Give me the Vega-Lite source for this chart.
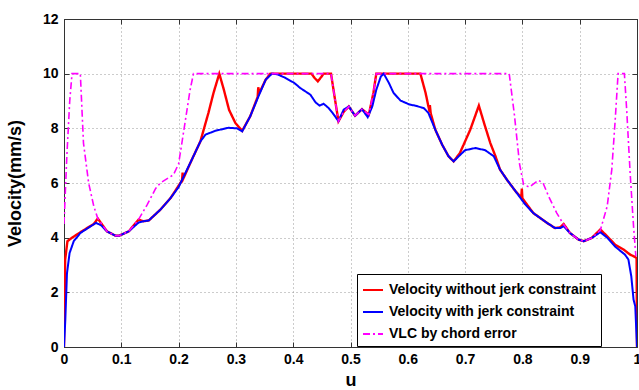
{
  "$schema": "https://vega.github.io/schema/vega-lite/v6.json",
  "width": 573,
  "height": 328,
  "autosize": "none",
  "padding": {"left": 64, "top": 19, "right": 2, "bottom": 43},
  "background": "white",
  "datasets": {
    "red": [
      {"u":0,"v":0},{"u":0.002,"v":3.2},{"u":0.006,"v":3.87},{"u":0.014,"v":4.0},{"u":0.034,"v":4.27},{"u":0.052,"v":4.5},{"u":0.059,"v":4.7},{"u":0.075,"v":4.23},{"u":0.09,"v":4.07},{"u":0.096,"v":4.07},{"u":0.113,"v":4.23},{"u":0.13,"v":4.66},{"u":0.139,"v":4.6},{"u":0.148,"v":4.63},{"u":0.168,"v":5.02},{"u":0.186,"v":5.45},{"u":0.2,"v":5.9},{"u":0.206,"v":6.1},{"u":0.207,"v":6.38},{"u":0.208,"v":6.15},{"u":0.223,"v":6.85},{"u":0.238,"v":7.52},{"u":0.252,"v":8.56},{"u":0.261,"v":9.3},{"u":0.271,"v":10.0},{"u":0.279,"v":9.41},{"u":0.288,"v":8.68},{"u":0.299,"v":8.2},{"u":0.311,"v":7.91},{"u":0.325,"v":8.44},{"u":0.338,"v":9.15},{"u":0.339,"v":9.5},{"u":0.341,"v":9.3},{"u":0.352,"v":9.78},{"u":0.36,"v":10.0},{"u":0.432,"v":10.0},{"u":0.437,"v":9.85},{"u":0.443,"v":9.72},{"u":0.449,"v":9.88},{"u":0.453,"v":10.0},{"u":0.466,"v":10.0},{"u":0.473,"v":9.05},{"u":0.479,"v":8.26},{"u":0.488,"v":8.6},{"u":0.497,"v":8.8},{"u":0.508,"v":8.46},{"u":0.52,"v":8.7},{"u":0.532,"v":8.5},{"u":0.54,"v":9.3},{"u":0.545,"v":10.0},{"u":0.622,"v":10.0},{"u":0.631,"v":9.3},{"u":0.636,"v":8.8},{"u":0.638,"v":8.6},{"u":0.6385,"v":8.85},{"u":0.64,"v":8.55},{"u":0.648,"v":7.95},{"u":0.66,"v":7.4},{"u":0.671,"v":6.98},{"u":0.68,"v":6.79},{"u":0.691,"v":7.1},{"u":0.709,"v":7.95},{"u":0.724,"v":8.83},{"u":0.733,"v":8.2},{"u":0.744,"v":7.46},{"u":0.753,"v":6.98},{"u":0.761,"v":6.49},{"u":0.773,"v":6.12},{"u":0.788,"v":5.7},{"u":0.798,"v":5.47},{"u":0.799,"v":5.8},{"u":0.8,"v":5.44},{"u":0.819,"v":4.9},{"u":0.843,"v":4.54},{"u":0.857,"v":4.35},{"u":0.866,"v":4.38},{"u":0.872,"v":4.5},{"u":0.883,"v":4.17},{"u":0.898,"v":3.93},{"u":0.907,"v":3.87},{"u":0.921,"v":3.99},{"u":0.936,"v":4.3},{"u":0.948,"v":4.05},{"u":0.962,"v":3.74},{"u":0.977,"v":3.56},{"u":0.988,"v":3.38},{"u":0.997,"v":3.29},{"u":0.9993,"v":3.25},{"u":1.0,"v":0}
    ],
    "blue": [
      {"u":0,"v":0},{"u":0.0023,"v":1.0},{"u":0.0052,"v":2.7},{"u":0.0098,"v":3.44},{"u":0.017,"v":3.87},{"u":0.0285,"v":4.17},{"u":0.046,"v":4.41},{"u":0.056,"v":4.54},{"u":0.065,"v":4.45},{"u":0.075,"v":4.23},{"u":0.09,"v":4.07},{"u":0.096,"v":4.07},{"u":0.113,"v":4.23},{"u":0.13,"v":4.55},{"u":0.139,"v":4.6},{"u":0.148,"v":4.63},{"u":0.168,"v":5.02},{"u":0.186,"v":5.45},{"u":0.2,"v":5.85},{"u":0.223,"v":6.85},{"u":0.238,"v":7.52},{"u":0.247,"v":7.77},{"u":0.264,"v":7.91},{"u":0.287,"v":8.02},{"u":0.302,"v":8.0},{"u":0.311,"v":7.89},{"u":0.325,"v":8.44},{"u":0.34,"v":9.2},{"u":0.352,"v":9.78},{"u":0.363,"v":10.0},{"u":0.372,"v":9.98},{"u":0.386,"v":9.85},{"u":0.402,"v":9.66},{"u":0.412,"v":9.48},{"u":0.43,"v":9.23},{"u":0.439,"v":8.95},{"u":0.446,"v":8.83},{"u":0.453,"v":8.9},{"u":0.462,"v":8.74},{"u":0.471,"v":8.5},{"u":0.479,"v":8.26},{"u":0.488,"v":8.68},{"u":0.497,"v":8.8},{"u":0.508,"v":8.46},{"u":0.52,"v":8.7},{"u":0.53,"v":8.41},{"u":0.538,"v":8.8},{"u":0.545,"v":9.41},{"u":0.553,"v":9.9},{"u":0.558,"v":10.0},{"u":0.567,"v":9.66},{"u":0.575,"v":9.3},{"u":0.587,"v":9.02},{"u":0.603,"v":8.87},{"u":0.613,"v":8.83},{"u":0.628,"v":8.74},{"u":0.636,"v":8.56},{"u":0.648,"v":7.95},{"u":0.66,"v":7.4},{"u":0.671,"v":6.98},{"u":0.68,"v":6.79},{"u":0.689,"v":6.98},{"u":0.7,"v":7.2},{"u":0.718,"v":7.28},{"u":0.735,"v":7.2},{"u":0.75,"v":6.98},{"u":0.761,"v":6.49},{"u":0.773,"v":6.12},{"u":0.788,"v":5.7},{"u":0.804,"v":5.24},{"u":0.819,"v":4.9},{"u":0.843,"v":4.54},{"u":0.857,"v":4.35},{"u":0.866,"v":4.35},{"u":0.872,"v":4.42},{"u":0.883,"v":4.17},{"u":0.898,"v":3.93},{"u":0.907,"v":3.87},{"u":0.921,"v":3.99},{"u":0.936,"v":4.2},{"u":0.948,"v":4.0},{"u":0.962,"v":3.67},{"u":0.979,"v":3.38},{"u":0.985,"v":3.2},{"u":0.99,"v":2.59},{"u":0.994,"v":1.73},{"u":0.997,"v":1.49},{"u":1.0,"v":0}
    ],
    "vlc": [
      {"u":0,"v":4.5},{"u":0.005,"v":7.0},{"u":0.01,"v":9.0},{"u":0.014,"v":10},{"u":0.0285,"v":10},{"u":0.034,"v":7.46},{"u":0.043,"v":6.0},{"u":0.052,"v":5.15},{"u":0.059,"v":4.7},{"u":0.075,"v":4.23},{"u":0.09,"v":4.07},{"u":0.096,"v":4.07},{"u":0.113,"v":4.23},{"u":0.13,"v":4.66},{"u":0.145,"v":5.2},{"u":0.16,"v":5.8},{"u":0.168,"v":6.0},{"u":0.191,"v":6.3},{"u":0.2,"v":6.7},{"u":0.206,"v":7.5},{"u":0.22,"v":9.4},{"u":0.226,"v":10},{"u":0.466,"v":10},{"u":0.473,"v":9.05},{"u":0.479,"v":8.26},{"u":0.488,"v":8.6},{"u":0.497,"v":8.8},{"u":0.508,"v":8.46},{"u":0.52,"v":8.7},{"u":0.532,"v":8.5},{"u":0.54,"v":9.3},{"u":0.545,"v":10},{"u":0.777,"v":10},{"u":0.786,"v":8.5},{"u":0.795,"v":6.7},{"u":0.802,"v":5.95},{"u":0.812,"v":5.85},{"u":0.828,"v":6.1},{"u":0.836,"v":6.0},{"u":0.846,"v":5.5},{"u":0.86,"v":4.9},{"u":0.872,"v":4.48},{"u":0.883,"v":4.17},{"u":0.898,"v":3.93},{"u":0.907,"v":3.87},{"u":0.921,"v":3.99},{"u":0.936,"v":4.27},{"u":0.948,"v":5.15},{"u":0.956,"v":6.49},{"u":0.962,"v":8.32},{"u":0.967,"v":10},{"u":0.978,"v":10},{"u":0.982,"v":8.68},{"u":0.988,"v":6.37},{"u":0.994,"v":4.41},{"u":0.998,"v":3.32}
    ]
  },
  "layer": [
    {
      "layer": [
        {
          "data": {"name": "red"},
          "mark": {"type": "line", "strokeWidth": 2.4, "clip": true},
          "encoding": {
            "x": {"field": "u", "type": "quantitative", "scale": {"domain": [0, 1], "nice": false},
                  "axis": {"values": [0,0.1,0.2,0.3,0.4,0.5,0.6,0.7,0.8,0.9,1], "format": "~g", "title": "u", "grid": true, "labelPadding": 10, "titlePadding": 5}},
            "y": {"field": "v", "type": "quantitative", "scale": {"domain": [0, 12], "nice": false},
                  "axis": {"values": [0,2,4,6,8,10,12], "title": "Velocity(mm/s)", "grid": true, "labelPadding": 11, "titlePadding": 18}},
            "color": {"datum": "Velocity without jerk constraint", "type": "nominal",
                      "scale": {"domain": ["Velocity without jerk constraint", "Velocity with jerk constraint", "VLC by chord error"], "range": ["#ff0000", "#0000ff", "#ff00ff"]},
                      "legend": {"title": null}},
            "strokeDash": {"datum": "Velocity without jerk constraint", "type": "nominal",
                      "scale": {"domain": ["Velocity without jerk constraint", "Velocity with jerk constraint", "VLC by chord error"], "range": [[1,0],[1,0],[7,3,2,3]]},
                      "legend": {"title": null}}
          }
        },
        {
          "data": {"name": "blue"},
          "mark": {"type": "line", "strokeWidth": 2, "clip": true},
          "encoding": {
            "x": {"field": "u", "type": "quantitative"},
            "y": {"field": "v", "type": "quantitative"},
            "color": {"datum": "Velocity with jerk constraint", "type": "nominal"},
            "strokeDash": {"datum": "Velocity with jerk constraint", "type": "nominal"}
          }
        },
        {
          "data": {"name": "vlc"},
          "mark": {"type": "line", "strokeWidth": 1.6, "clip": true},
          "encoding": {
            "x": {"field": "u", "type": "quantitative"},
            "y": {"field": "v", "type": "quantitative"},
            "color": {"datum": "VLC by chord error", "type": "nominal"},
            "strokeDash": {"datum": "VLC by chord error", "type": "nominal"}
          }
        }
      ]
    },
    {
      "data": {"name": "red"},
      "mark": {"type": "point", "opacity": 0},
      "encoding": {
        "x": {"field": "u", "type": "quantitative",
              "axis": {"orient": "top", "values": [0,0.1,0.2,0.3,0.4,0.5,0.6,0.7,0.8,0.9,1], "labels": false, "title": null, "grid": false}},
        "y": {"field": "v", "type": "quantitative",
              "axis": {"orient": "right", "values": [0,2,4,6,8,10,12], "labels": false, "title": null, "grid": false}}
      }
    }
  ],
  "resolve": {"axis": {"x": "independent", "y": "independent"}},
  "config": {
    "view": {"stroke": "#333", "strokeWidth": 1},
    "font": "Liberation Sans",
    "axis": {
      "labelFont": "Liberation Sans", "labelFontSize": 14, "labelFontWeight": "bold", "labelColor": "#000",
      "titleFont": "Liberation Sans", "titleFontSize": 18, "titleFontWeight": "bold", "titleColor": "#000",
      "domainColor": "#333", "tickColor": "#333", "tickSize": -5, "labelFlush": false,
      "gridColor": "#999", "gridDash": [1, 3], "gridOpacity": 1, "gridWidth": 1
    },
    "legend": {
      "orient": "none", "legendX": 293, "legendY": 255,
      "strokeColor": "#000", "fillColor": "#fff", "padding": 5, "cornerRadius": 0,
      "labelFont": "Liberation Sans", "labelFontSize": 14, "labelFontWeight": "bold", "labelColor": "#000", "labelLimit": 400,
      "symbolType": "stroke", "symbolSize": 400, "symbolStrokeWidth": 2, "labelOffset": 5, "rowPadding": 4
    }
  }
}
